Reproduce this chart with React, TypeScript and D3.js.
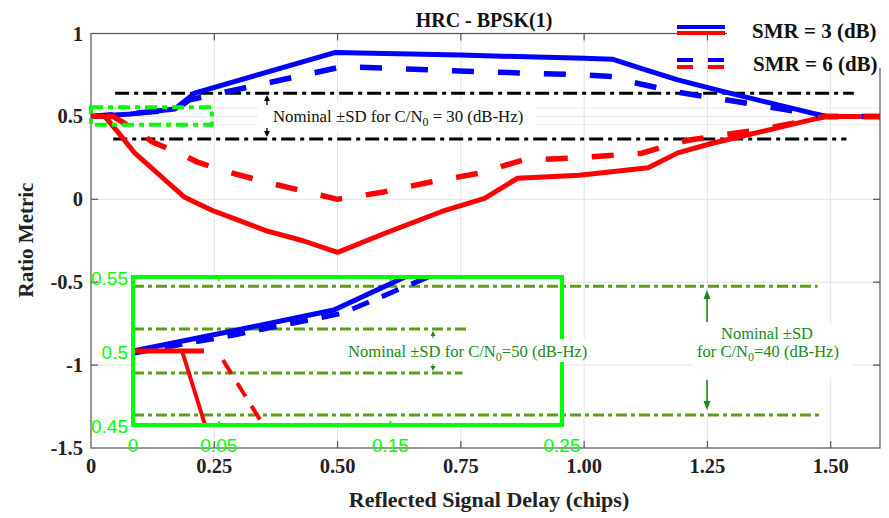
import React, { useEffect, useRef } from 'react';
import * as d3 from 'd3';

type Pt = [number, number];

// ---- main curves: [reflected delay (chips), ratio metric] ----
const blueSolid: Pt[] = [
  [0, 0.5], [0.08, 0.515], [0.17, 0.545], [0.21, 0.64], [0.494, 0.885], [0.75, 0.87],
  [1.0, 0.85], [1.057, 0.845], [1.125, 0.78], [1.19, 0.72], [1.287, 0.646], [1.49, 0.5], [1.6, 0.5],
];
const blueDashed: Pt[] = [
  [0, 0.5], [0.17, 0.538], [0.2, 0.6], [0.51, 0.8], [0.787, 0.77], [1.0, 0.75], [1.065, 0.74],
  [1.097, 0.707], [1.19, 0.646], [1.287, 0.6], [1.389, 0.55], [1.49, 0.5], [1.6, 0.5],
];
const redSolidStub: Pt[] = [[0, 0.5], [0.041, 0.5]];
const redSolid: Pt[] = [
  [0.028, 0.5], [0.06, 0.385], [0.089, 0.278], [0.144, 0.133], [0.19, 0.012], [0.245, -0.066],
  [0.3, -0.127], [0.356, -0.19], [0.43, -0.25], [0.5, -0.32], [0.6, -0.2], [0.71, -0.075],
  [0.798, 0.006], [0.865, 0.127], [0.99, 0.145], [1.13, 0.19], [1.19, 0.28], [1.26, 0.338],
  [1.328, 0.386], [1.49, 0.5], [1.6, 0.5],
];
const redDashed: Pt[] = [
  [0, 0.5], [0.045, 0.5], [0.089, 0.42], [0.125, 0.345], [0.174, 0.284], [0.215, 0.226],
  [0.265, 0.175], [0.356, 0.103], [0.5, 0.0], [0.59, 0.042], [0.686, 0.103], [0.787, 0.157],
  [0.875, 0.236], [0.974, 0.248], [1.065, 0.266], [1.117, 0.278], [1.158, 0.314], [1.21, 0.356],
  [1.253, 0.375], [1.308, 0.4], [1.354, 0.417], [1.49, 0.5], [1.6, 0.5],
];

// nominal +-SD for C/N0 = 30 dB-Hz
const sd30Upper: Pt[] = [[0.049, 0.64], [1.547, 0.64]];
const sd30Lower: Pt[] = [[0.045, 0.363], [1.532, 0.363]];

// region that is zoomed in the inset
const zoomRegionX = [0, 0.245];
const zoomRegionY = [0.45, 0.555];

// ---- inset (zoom of the start) ----
const insetBlueSolid: Pt[] = [[0, 0.5], [0.055, 0.5128], [0.117, 0.5277], [0.1585, 0.55]];
const insetBlueDashed: Pt[] = [[0, 0.4985], [0.06, 0.511], [0.122, 0.5255], [0.172, 0.55]];
const insetRedStub: Pt[] = [[0, 0.5], [0.0414, 0.5]];
const insetRedSolid: Pt[] = [[0.0286, 0.5], [0.042, 0.45]];
const insetRedDashed: Pt[] = [[0.0524, 0.4939], [0.0752, 0.4514]];
const sd50Upper: Pt[] = [[0, 0.5149], [0.1946, 0.5149]];
const sd50Lower: Pt[] = [[0, 0.4851], [0.192, 0.4851]];
const sd40Upper: Pt[] = [[0, 0.5437], [0.399, 0.5437]];
const sd40Lower: Pt[] = [[0, 0.4568], [0.402, 0.4568]];

// ---- ticks ----
const xTicks = [0, 0.25, 0.5, 0.75, 1.0, 1.25, 1.5];
const xTickLabels = ['0', '0.25', '0.50', '0.75', '1.00', '1.25', '1.50'];
const yTicks = [-1.5, -1, -0.5, 0, 0.5, 1];
const yTickLabels = ['-1.5', '-1', '-0.5', '0', '0.5', '1'];
const faintGridY = [0.45, 0.55];
const insetXTicks = [0, 0.05, 0.15, 0.25];
const insetXTickLabels = ['0', '0.05', '0.15', '0.25'];
const insetYTicks = [0.45, 0.5, 0.55];
const insetYTickLabels = ['0.45', '0.5', '0.55'];

const App = () => {
  const svgRef = useRef<SVGSVGElement | null>(null);

  useEffect(() => {
    if (!svgRef.current) return;
    const svg = d3.select(svgRef.current);
    svg.selectAll('*').remove();

    const serif = '"Liberation Serif", "DejaVu Serif", serif';
    const sans = '"Liberation Sans", Arial, sans-serif';
    const BLUE = '#0000ff';
    const RED = '#ff0000';
    const LIME = '#00ff00';
    const OLIVE = '#5a9f1c';
    const DKGREEN = '#178a17';
    const GRID = '#e3e3e3';
    const AXIS = '#555';

    // scales
    const x = d3.scaleLinear().domain([0, 1.6]).range([91, 880]);
    const y = d3.scaleLinear().domain([-1.5, 1]).range([448, 33.5]);
    const ix = d3.scaleLinear().domain([0, 0.25]).range([133, 562]);
    const iy = d3.scaleLinear().domain([0.45, 0.55]).range([425, 277]);

    const line = d3.line<Pt>().x(d => x(d[0])).y(d => y(d[1]));
    const iline = d3.line<Pt>().x(d => ix(d[0])).y(d => iy(d[1]));

    svg.append('rect').attr('width', 889).attr('height', 518).attr('fill', '#fff');

    // grid
    const grid = svg.append('g');
    xTicks.slice(1).forEach(t => {
      grid.append('line').attr('x1', x(t)).attr('x2', x(t)).attr('y1', y(1)).attr('y2', y(-1.5))
        .attr('stroke', GRID).attr('stroke-width', 1);
    });
    yTicks.slice(1, -1).forEach(t => {
      grid.append('line').attr('x1', x(0)).attr('x2', x(1.6)).attr('y1', y(t)).attr('y2', y(t))
        .attr('stroke', GRID).attr('stroke-width', 1);
    });
    faintGridY.forEach(t => {
      grid.append('line').attr('x1', x(0)).attr('x2', x(1.6)).attr('y1', y(t)).attr('y2', y(t))
        .attr('stroke', '#ececec').attr('stroke-width', 1);
    });

    // axes box with inward ticks
    const ax = svg.append('g').attr('stroke', AXIS).attr('stroke-width', 1.2).attr('fill', 'none');
    ax.append('rect').attr('x', x(0)).attr('y', y(1)).attr('width', x(1.6) - x(0)).attr('height', y(-1.5) - y(1));
    xTicks.slice(1).forEach(t => {
      ax.append('line').attr('x1', x(t)).attr('x2', x(t)).attr('y1', y(-1.5)).attr('y2', y(-1.5) - 7);
      ax.append('line').attr('x1', x(t)).attr('x2', x(t)).attr('y1', y(1)).attr('y2', y(1) + 7);
    });
    yTicks.slice(1, -1).forEach(t => {
      ax.append('line').attr('x1', x(0)).attr('x2', x(0) + 7).attr('y1', y(t)).attr('y2', y(t));
      ax.append('line').attr('x1', x(1.6)).attr('x2', x(1.6) - 7).attr('y1', y(t)).attr('y2', y(t));
    });

    // tick labels
    const lab = svg.append('g').attr('font-family', serif).attr('font-weight', 'bold')
      .attr('font-size', 20.5).attr('fill', '#222');
    xTicks.forEach((t, i) => {
      lab.append('text').attr('x', x(t)).attr('y', 473).attr('text-anchor', 'middle').text(xTickLabels[i]);
    });
    yTicks.forEach((t, i) => {
      lab.append('text').attr('x', 83).attr('y', y(t) + 7).attr('text-anchor', 'end').text(yTickLabels[i]);
    });

    // axis titles
    svg.append('text').attr('x', 489).attr('y', 507).attr('text-anchor', 'middle')
      .attr('font-family', serif).attr('font-weight', 'bold').attr('font-size', 22).attr('fill', '#222')
      .text('Reflected Signal Delay (chips)');
    svg.append('text').attr('transform', 'translate(33,240) rotate(-90)').attr('text-anchor', 'middle')
      .attr('font-family', serif).attr('font-weight', 'bold').attr('font-size', 21).attr('fill', '#222')
      .text('Ratio Metric');
    svg.append('text').attr('x', 484).attr('y', 27).attr('text-anchor', 'middle')
      .attr('font-family', serif).attr('font-weight', 'bold').attr('font-size', 20).attr('fill', '#111')
      .text('HRC - BPSK(1)');

    // C/N0 = 30 band
    [sd30Upper, sd30Lower].forEach(d => {
      svg.append('path').attr('d', line(d)).attr('fill', 'none').attr('stroke', '#000')
        .attr('stroke-width', 3).attr('stroke-dasharray', '14,5,4,5');
    });

    // annotation for 30 dB-Hz (white box)
    svg.append('rect').attr('x', 258).attr('y', 101).attr('width', 278).attr('height', 31).attr('fill', '#fff');
    const t30 = svg.append('text').attr('x', 273).attr('y', 122).attr('font-family', serif)
      .attr('font-size', 16.8).attr('fill', '#111');
    t30.append('tspan').text('Nominal \u00b1SD  for C/N');
    t30.append('tspan').attr('dy', 4).attr('font-size', 12).text('0');
    t30.append('tspan').attr('dy', -4).text(' = 30 (dB-Hz)');

    const arrow = (g: d3.Selection<SVGGElement, unknown, null, undefined>, ax0: number, from: number, to: number, col: string, hw: number, hl: number, sw: number) => {
      const dir = to < from ? 1 : -1;
      g.append('line').attr('x1', ax0).attr('x2', ax0).attr('y1', from).attr('y2', to + dir * hl * 0.6)
        .attr('stroke', col).attr('stroke-width', sw);
      g.append('path')
        .attr('d', `M${ax0},${to} L${ax0 - hw / 2},${to + dir * hl} L${ax0 + hw / 2},${to + dir * hl} Z`)
        .attr('fill', col);
    };
    const arrows = svg.append('g');
    arrow(arrows, 267, 105, 95, '#000', 6, 6, 1.3);
    arrow(arrows, 267, 128, 137, '#000', 6, 6, 1.3);

    // curves
    svg.append('path').attr('d', line(blueSolid)).attr('fill', 'none').attr('stroke', BLUE)
      .attr('stroke-width', 5).attr('stroke-linejoin', 'round');
    svg.append('path').attr('d', line(redSolid)).attr('fill', 'none').attr('stroke', RED)
      .attr('stroke-width', 5).attr('stroke-linejoin', 'round');
    svg.append('path').attr('d', line(blueDashed)).attr('fill', 'none').attr('stroke', BLUE)
      .attr('stroke-width', 5.5).attr('stroke-dasharray', '22,24');
    svg.append('path').attr('d', line(redDashed)).attr('fill', 'none').attr('stroke', RED)
      .attr('stroke-width', 5.5).attr('stroke-dasharray', '22,24').attr('stroke-dashoffset', 30);
    svg.append('path').attr('d', line(redSolidStub)).attr('fill', 'none').attr('stroke', RED)
      .attr('stroke-width', 5);

    // zoom region marker
    svg.append('rect')
      .attr('x', x(zoomRegionX[0])).attr('y', y(zoomRegionY[1]))
      .attr('width', x(zoomRegionX[1]) - x(zoomRegionX[0])).attr('height', y(zoomRegionY[0]) - y(zoomRegionY[1]))
      .attr('fill', 'none').attr('stroke', LIME).attr('stroke-width', 4).attr('stroke-dasharray', '12,5,5,5');

    // ---- inset ----
    const inset = svg.append('g');
    inset.append('rect').attr('x', ix(0)).attr('y', iy(0.55)).attr('width', ix(0.25) - ix(0))
      .attr('height', iy(0.45) - iy(0.55)).attr('fill', '#fff');
    [sd40Upper, sd40Lower, sd50Upper, sd50Lower].forEach(d => {
      inset.append('path').attr('d', iline(d)).attr('fill', 'none').attr('stroke', OLIVE)
        .attr('stroke-width', 3).attr('stroke-dasharray', '11,4,4,4');
    });
    inset.append('path').attr('d', iline(insetBlueSolid)).attr('fill', 'none').attr('stroke', BLUE).attr('stroke-width', 5);
    inset.append('path').attr('d', iline(insetBlueDashed)).attr('fill', 'none').attr('stroke', BLUE)
      .attr('stroke-width', 5).attr('stroke-dasharray', '18,14');
    inset.append('path').attr('d', iline(insetRedSolid)).attr('fill', 'none').attr('stroke', RED).attr('stroke-width', 4);
    inset.append('path').attr('d', iline(insetRedStub)).attr('fill', 'none').attr('stroke', RED).attr('stroke-width', 5);
    inset.append('path').attr('d', iline(insetRedDashed)).attr('fill', 'none').attr('stroke', RED)
      .attr('stroke-width', 4).attr('stroke-dasharray', '16,11');
    inset.append('rect').attr('x', ix(0)).attr('y', iy(0.55)).attr('width', ix(0.25) - ix(0))
      .attr('height', iy(0.45) - iy(0.55)).attr('fill', 'none').attr('stroke', LIME).attr('stroke-width', 4);
    insetXTicks.slice(1, -1).forEach(t => {
      inset.append('line').attr('x1', ix(t)).attr('x2', ix(t)).attr('y1', iy(0.55)).attr('y2', iy(0.55) + 4)
        .attr('stroke', LIME).attr('stroke-width', 2);
      inset.append('line').attr('x1', ix(t)).attr('x2', ix(t)).attr('y1', iy(0.45)).attr('y2', iy(0.45) - 4)
        .attr('stroke', LIME).attr('stroke-width', 2);
    });
    const ilab = inset.append('g').attr('font-family', sans).attr('font-size', 19).attr('fill', LIME);
    insetXTicks.forEach((t, i) => {
      ilab.append('text').attr('x', ix(t)).attr('y', 452).attr('text-anchor', 'middle').text(insetXTickLabels[i]);
    });
    insetYTicks.forEach((t, i) => {
      ilab.append('text').attr('x', 128).attr('y', iy(t) + 8).attr('text-anchor', 'end').text(insetYTickLabels[i]);
    });

    // annotation 50 dB-Hz
    svg.append('rect').attr('x', 345).attr('y', 339).attr('width', 250).attr('height', 23).attr('fill', '#fff');
    const t50 = svg.append('text').attr('x', 348).attr('y', 357).attr('font-family', serif)
      .attr('font-size', 16.6).attr('fill', DKGREEN);
    t50.append('tspan').text('Nominal \u00b1SD for C/N');
    t50.append('tspan').attr('dy', 4).attr('font-size', 12).text('0');
    t50.append('tspan').attr('dy', -4).text('=50 (dB-Hz)');
    const garrows = svg.append('g');
    arrow(garrows, 433, 338, 331, DKGREEN, 5, 5, 1);
    arrow(garrows, 433, 364, 371, DKGREEN, 5, 5, 1);

    // annotation 40 dB-Hz
    svg.append('rect').attr('x', 693).attr('y', 325).attr('width', 160).attr('height', 53).attr('fill', '#fff');
    svg.append('text').attr('x', 767).attr('y', 339).attr('text-anchor', 'middle').attr('font-family', serif)
      .attr('font-size', 16.5).attr('fill', DKGREEN).text('Nominal \u00b1SD');
    const t40 = svg.append('text').attr('x', 768).attr('y', 357).attr('text-anchor', 'middle')
      .attr('font-family', serif).attr('font-size', 16.5).attr('fill', DKGREEN);
    t40.append('tspan').text('for C/N');
    t40.append('tspan').attr('dy', 4).attr('font-size', 12).text('0');
    t40.append('tspan').attr('dy', -4).text('=40 (dB-Hz)');
    arrow(garrows, 707, 322, 290, DKGREEN, 7, 9, 1.6);
    arrow(garrows, 707, 380, 410, DKGREEN, 7, 9, 1.6);

    // ---- legend ----
    const leg = svg.append('g');
    leg.append('rect').attr('x', 727).attr('y', 0).attr('width', 162).attr('height', 68).attr('fill', '#fff');
    leg.append('line').attr('x1', 677).attr('x2', 725).attr('y1', 27).attr('y2', 27).attr('stroke', BLUE).attr('stroke-width', 4);
    leg.append('line').attr('x1', 677).attr('x2', 725).attr('y1', 33).attr('y2', 33).attr('stroke', RED).attr('stroke-width', 4);
    leg.append('line').attr('x1', 677).attr('x2', 725).attr('y1', 60).attr('y2', 60).attr('stroke', BLUE)
      .attr('stroke-width', 4).attr('stroke-dasharray', '16,15');
    leg.append('line').attr('x1', 677).attr('x2', 725).attr('y1', 67).attr('y2', 67).attr('stroke', RED)
      .attr('stroke-width', 4).attr('stroke-dasharray', '16,15');
    leg.append('text').attr('x', 752).attr('y', 38).attr('font-family', serif).attr('font-weight', 'bold')
      .attr('font-size', 21).attr('fill', '#111').text('SMR = 3 (dB)');
    leg.append('text').attr('x', 753).attr('y', 71).attr('font-family', serif).attr('font-weight', 'bold')
      .attr('font-size', 21).attr('fill', '#111').text('SMR = 6 (dB)');
  }, []);

  return (
    <svg ref={svgRef} width={889} height={518}
      style={{ position: 'absolute', left: 0, top: 0, display: 'block' }} />
  );
};

export default App;
